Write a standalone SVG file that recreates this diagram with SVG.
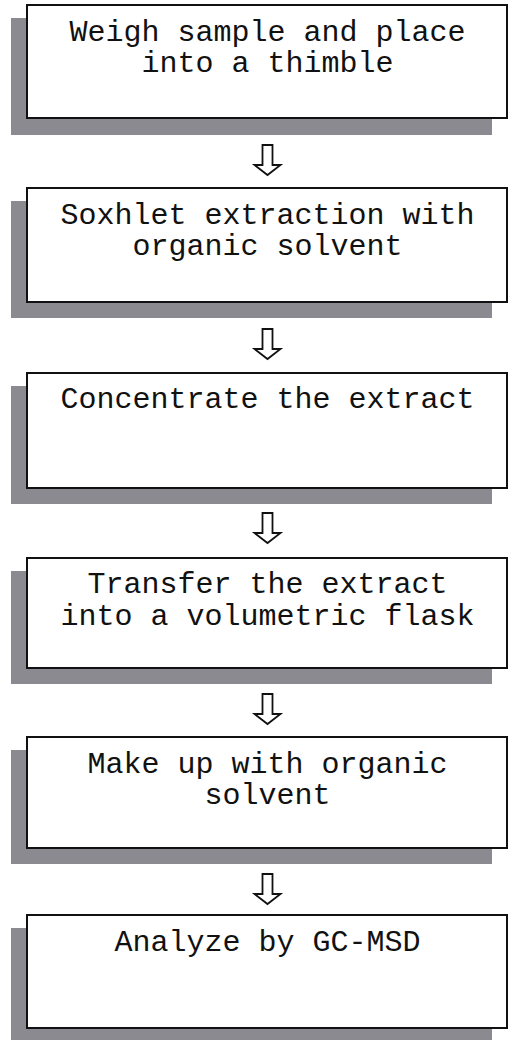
<svg xmlns="http://www.w3.org/2000/svg" width="510" height="1040" viewBox="0 0 510 1040">
<style>
.shadow{fill:#8a8a90;}
.box{fill:#ffffff;stroke:#111111;stroke-width:2;}
.lbl{font-family:"Liberation Mono","Courier New",monospace;font-size:30px;fill:#111111;text-anchor:middle;}
.arrow{fill:#ffffff;stroke:#111111;stroke-width:1.8;stroke-linejoin:miter;}
</style>
<rect width="510" height="1040" fill="#ffffff"/>
<g id="node1">
<rect class="shadow" x="11" y="18" width="481" height="117"/>
<rect class="box" x="27" y="5" width="480" height="113"/>
<text class="lbl" x="267.5" y="41">Weigh sample and place</text>
<text class="lbl" x="267.5" y="72">into a thimble</text>
</g>
<g id="node2">
<rect class="shadow" x="11" y="201" width="481" height="117"/>
<rect class="box" x="27" y="188" width="480" height="114"/>
<text class="lbl" x="267.5" y="224">Soxhlet extraction with</text>
<text class="lbl" x="267.5" y="255">organic solvent</text>
</g>
<g id="node3">
<rect class="shadow" x="11" y="386" width="481" height="118"/>
<rect class="box" x="27" y="373" width="480" height="115"/>
<text class="lbl" x="267.5" y="408">Concentrate the extract</text>
</g>
<g id="node4">
<rect class="shadow" x="11" y="571" width="481" height="113"/>
<rect class="box" x="27" y="558" width="480" height="110"/>
<text class="lbl" x="267.5" y="593">Transfer the extract</text>
<text class="lbl" x="267.5" y="625">into a volumetric flask</text>
</g>
<g id="node5">
<rect class="shadow" x="11" y="750" width="481" height="114"/>
<rect class="box" x="27" y="737" width="480" height="111"/>
<text class="lbl" x="267.5" y="773">Make up with organic</text>
<text class="lbl" x="267.5" y="804">solvent</text>
</g>
<g id="node6">
<rect class="shadow" x="11" y="928" width="481" height="116"/>
<rect class="box" x="27" y="915" width="480" height="113"/>
<text class="lbl" x="267.5" y="951">Analyze by GC-MSD</text>
</g>
<g id="connectors">
<path class="arrow" d="M262.5,145 V165 H254.5 L267.5,175 L280.5,165 H272.5 V145 Z"/>
<path class="arrow" d="M262.5,329 V349 H254.5 L267.5,359 L280.5,349 H272.5 V329 Z"/>
<path class="arrow" d="M262.5,513 V533 H254.5 L267.5,543 L280.5,533 H272.5 V513 Z"/>
<path class="arrow" d="M262.5,694 V714 H254.5 L267.5,724 L280.5,714 H272.5 V694 Z"/>
<path class="arrow" d="M262.5,874 V894 H254.5 L267.5,904 L280.5,894 H272.5 V874 Z"/>
</g>
</svg>
